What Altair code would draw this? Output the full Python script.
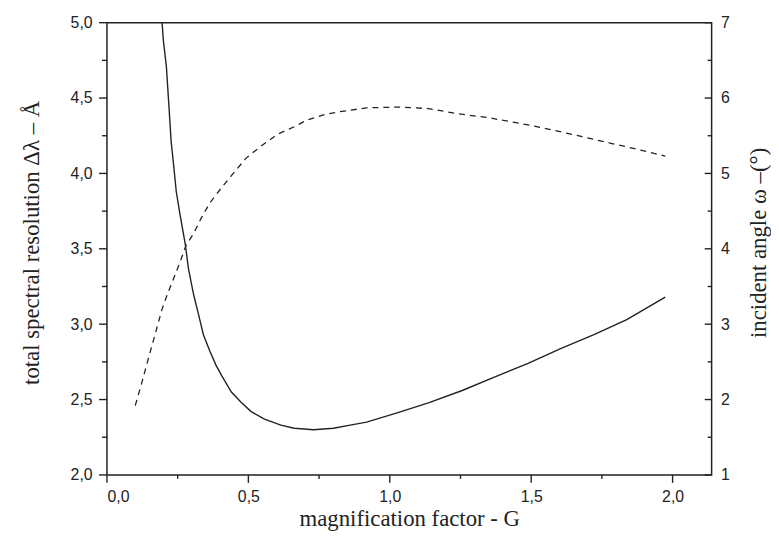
import altair as alt
import pandas as pd

# Solid curve: total spectral resolution (left axis)
g_res = [0.195, 0.199, 0.210, 0.219, 0.227, 0.236, 0.245, 0.259, 0.277, 0.288, 0.306,
         0.323, 0.341, 0.364, 0.385, 0.405, 0.440, 0.475, 0.510, 0.557, 0.615, 0.662,
         0.730, 0.801, 0.860, 0.918, 1.023, 1.139, 1.256, 1.372, 1.489, 1.606, 1.722,
         1.838, 1.974]
res = [5.00, 4.89, 4.71, 4.45, 4.21, 4.05, 3.88, 3.72, 3.53, 3.37, 3.20,
       3.07, 2.93, 2.82, 2.73, 2.66, 2.55, 2.48, 2.42, 2.37, 2.33, 2.31,
       2.30, 2.31, 2.33, 2.35, 2.41, 2.48, 2.56, 2.65, 2.74, 2.84, 2.93,
       3.03, 3.18]

# Dashed curve: incident angle (right axis)
g_ang = [0.100, 0.120, 0.149, 0.175, 0.194, 0.213, 0.236, 0.259, 0.280, 0.306, 0.335,
         0.364, 0.405, 0.440, 0.491, 0.544, 0.603, 0.663, 0.708, 0.768, 0.824, 0.918,
         1.033, 1.138, 1.243, 1.348, 1.467, 1.572, 1.677, 1.782, 1.887, 1.974]
ang = [1.92, 2.18, 2.58, 2.93, 3.19, 3.39, 3.61, 3.83, 4.05, 4.20, 4.42,
       4.61, 4.81, 4.97, 5.20, 5.36, 5.52, 5.62, 5.71, 5.78, 5.82, 5.87,
       5.88, 5.86, 5.79, 5.74, 5.66, 5.58, 5.49, 5.40, 5.31, 5.23]

# Axis ticks
x_major = [0.0, 0.5, 1.0, 1.5, 2.0]
x_minor = [0.25, 0.75, 1.25, 1.75]
yl_major = [2.0, 2.5, 3.0, 3.5, 4.0, 4.5, 5.0]
yl_minor = [2.25, 2.75, 3.25, 3.75, 4.25, 4.75]
yr_major = [1, 2, 3, 4, 5, 6, 7]
yr_minor = [1.5, 2.5, 3.5, 4.5, 5.5, 6.5]

W, H = 611, 457

df_res = pd.DataFrame({"G": g_res, "res": res})
df_ang = pd.DataFrame({"G": g_ang, "ang": ang})

INK = "#222222"
LABEL_FONT = "Liberation Sans"
TITLE_FONT = "Liberation Serif"
COMMA = "replace(format(datum.value, '.1f'), '.', ',')"

x_scale = alt.Scale(domain=[0, 2.138], nice=False, zero=False)
yl_scale = alt.Scale(domain=[2, 5], nice=False, zero=False)
yr_scale = alt.Scale(domain=[1, 7], nice=False, zero=False)

solid = alt.Chart(df_res).mark_line(color=INK, strokeWidth=1.4, clip=True).encode(
    x=alt.X("G:Q", scale=x_scale, axis=alt.Axis(
        orient="bottom", values=x_major, ticks=False, labelPadding=14, labelExpr=COMMA,
        title="magnification factor - G", titleX=305.5, titleY=44, titleAngle=0,
        titleBaseline="middle", titleAlign="center", domain=False)),
    y=alt.Y("res:Q", scale=yl_scale, axis=alt.Axis(
        orient="left", values=yl_major, ticks=False, labelPadding=15, labelExpr=COMMA,
        title="total spectral resolution Δλ – Å", titleX=-76, titleY=222, titleAngle=270,
        titleBaseline="middle", titleAlign="center", domain=False)),
)

dashed = alt.Chart(df_ang).mark_line(color=INK, strokeWidth=1.3, strokeDash=[6, 5], clip=True).encode(
    x=alt.X("G:Q", scale=x_scale),
    y=alt.Y("ang:Q", scale=yr_scale, axis=alt.Axis(
        orient="right", values=yr_major, ticks=False, labelPadding=9,
        labelExpr="format(datum.value, 'd')",
        title="incident angle ω –(°)", titleX=47, titleY=222, titleAngle=270,
        titleBaseline="middle", titleAlign="center", domain=False)),
)


def yticks(vals, scale, x0, x1):
    return alt.Chart(pd.DataFrame({"v": vals})).mark_rule(
        color=INK, strokeWidth=1.4, clip=False).encode(
        y=alt.Y("v:Q", scale=scale, axis=None),
        x=alt.value(x0), x2=alt.value(x1))


def xticks(vals, length):
    return alt.Chart(pd.DataFrame({"v": vals})).mark_rule(
        color=INK, strokeWidth=1.4, clip=False).encode(
        x=alt.X("v:Q", scale=x_scale),
        y=alt.value(H), y2=alt.value(H + length))


layers = [
    solid,
    dashed,
    yticks(yl_major, yl_scale, -8, 0),
    yticks(yl_minor, yl_scale, -5, 0),
    yticks(yr_major, yr_scale, W - 7, W),
    yticks(yr_minor, yr_scale, W - 4, W),
    xticks(x_major, 8),
    xticks(x_minor, 4),
]

chart = (
    alt.layer(*layers)
    .resolve_scale(y="independent")
    .properties(
        width=W,
        height=H,
        autosize=alt.AutoSizeParams(type="none"),
        padding={"left": 100, "top": 12, "right": 60, "bottom": 70},
        background="white",
    )
    .configure_view(stroke=INK, strokeWidth=1.5)
    .configure_axis(
        labelFont=LABEL_FONT,
        labelFontSize=16,
        labelColor=INK,
        titleFont=TITLE_FONT,
        titleFontSize=23,
        titleFontWeight="normal",
        titleColor=INK,
        grid=False,
    )
)

chart.save("out.html", embed_options={"renderer": "svg", "actions": False})
